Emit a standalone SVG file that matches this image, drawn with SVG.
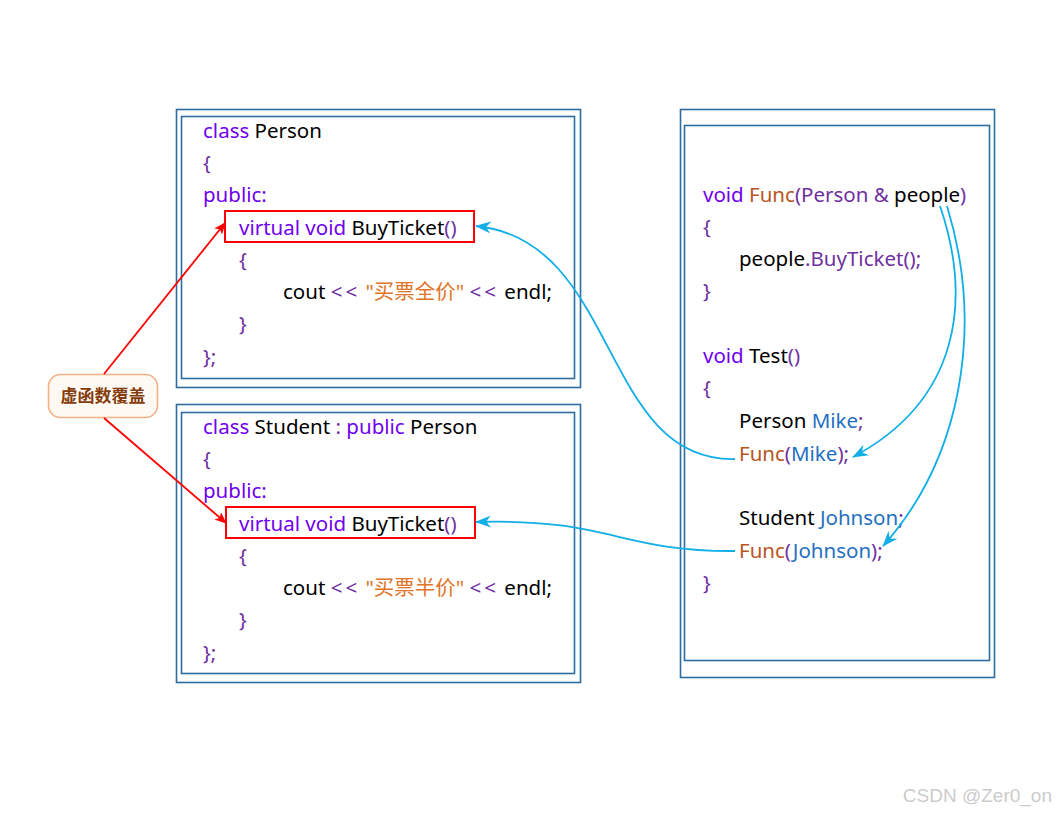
<svg xmlns="http://www.w3.org/2000/svg" width="1056" height="813" viewBox="0 0 1056 813">
<style>
text{font-family:"Noto Sans","Noto Sans CJK SC",sans-serif;font-size:20.5px;fill:#000}
.kw{fill:#6F00F0}
.pu{fill:#7030A0}
.fn{fill:#B8561E}
.vr{fill:#1F70C1}
.st{fill:#E07428}
.ob{fill:none;stroke:#2E6C9E;stroke-width:1.6}
.rb{fill:none;stroke:#FF0000;stroke-width:2}
.rl{fill:none;stroke:#FF0000;stroke-width:1.8}
.bl{fill:none;stroke:#11AEE8;stroke-width:1.8}
</style>
<defs>
<marker id="ar" viewBox="0 0 12 10" refX="11" refY="5" markerWidth="12" markerHeight="10" markerUnits="userSpaceOnUse" orient="auto">
<path d="M0,0 L12,5 L0,10 L3,5 z" fill="#FF0000"/>
</marker>
<marker id="ab" viewBox="0 0 16 12" refX="15" refY="6" markerWidth="16" markerHeight="12" markerUnits="userSpaceOnUse" orient="auto">
<path d="M0,0 L16,6 L0,12 L5,6 z" fill="#11AEE8"/>
</marker>
</defs>
<rect width="1056" height="813" fill="#fff"/>

<g id="person">
<rect class="ob" x="176.5" y="109.5" width="404" height="278"/>
<rect class="ob" x="181.5" y="116.5" width="393" height="262"/>
<text x="203" y="138"><tspan class="kw">class</tspan> Person</text>
<text x="203" y="170" class="pu">{</text>
<text x="203" y="202" class="kw">public:</text>
<rect class="rb" x="225" y="211" width="249" height="31"/>
<text x="239" y="235"><tspan class="kw">virtual void</tspan> BuyTicket<tspan class="pu">()</tspan></text>
<text x="239" y="267" class="pu">{</text>
<text x="283" y="299">cout <tspan class="pu" letter-spacing="3">&lt;&lt;</tspan> <tspan class="st">"买票全价"</tspan> <tspan class="pu" letter-spacing="3">&lt;&lt;</tspan> endl;</text>
<text x="239" y="331" class="pu">}</text>
<text x="203" y="364" class="pu">};</text>
</g>

<g id="student">
<rect class="ob" x="176.5" y="404.5" width="404" height="278"/>
<rect class="ob" x="181.5" y="412.5" width="393" height="261"/>
<text x="203" y="434"><tspan class="kw">class</tspan> Student <tspan class="pu">:</tspan> <tspan class="kw">public</tspan> Person</text>
<text x="203" y="466" class="pu">{</text>
<text x="203" y="498" class="kw">public:</text>
<rect class="rb" x="226" y="507" width="249" height="31"/>
<text x="239" y="531"><tspan class="kw">virtual void</tspan> BuyTicket<tspan class="pu">()</tspan></text>
<text x="239" y="563" class="pu">{</text>
<text x="283" y="595">cout <tspan class="pu" letter-spacing="3">&lt;&lt;</tspan> <tspan class="st">"买票半价"</tspan> <tspan class="pu" letter-spacing="3">&lt;&lt;</tspan> endl;</text>
<text x="239" y="627" class="pu">}</text>
<text x="203" y="660" class="pu">};</text>
</g>

<g id="funcs">
<rect class="ob" x="680.5" y="109.5" width="314" height="568"/>
<rect class="ob" x="684.5" y="125.5" width="305" height="535"/>
<text x="703" y="202"><tspan class="kw">void</tspan> <tspan class="fn">Func</tspan><tspan class="pu">(Person &amp;</tspan> people<tspan class="pu">)</tspan></text>
<text x="703" y="234" class="pu">{</text>
<text x="739" y="266">people<tspan class="pu">.BuyTicket();</tspan></text>
<text x="703" y="298" class="pu">}</text>
<text x="703" y="363"><tspan class="kw">void</tspan> Test<tspan class="pu">()</tspan></text>
<text x="703" y="395" class="pu">{</text>
<text x="739" y="428">Person <tspan class="vr">Mike</tspan><tspan class="pu">;</tspan></text>
<text x="739" y="461"><tspan class="fn">Func</tspan><tspan class="pu">(</tspan><tspan class="vr">Mike</tspan><tspan class="pu">);</tspan></text>
<text x="739" y="525">Student <tspan class="vr">Johnson</tspan><tspan class="pu">;</tspan></text>
<text x="739" y="558"><tspan class="fn">Func</tspan><tspan class="pu">(</tspan><tspan class="vr">Johnson</tspan><tspan class="pu">);</tspan></text>
<text x="703" y="590" class="pu">}</text>
</g>

<g id="label">
<rect x="48.5" y="374.5" width="109" height="43" rx="12" fill="#FFF9F4" stroke="#F4B183" stroke-width="1.6"/>
<text x="103" y="402" text-anchor="middle" style="font-family:'Noto Sans CJK SC',sans-serif;font-size:17px;font-weight:bold;fill:#843C0C">虚函数覆盖</text>
</g>

<g id="connectors">
<path class="rl" d="M104,374 L225,223" marker-end="url(#ar)"/>
<path class="rl" d="M104,418 L226,523" marker-end="url(#ar)"/>
<path class="bl" d="M735,459 C600,462 620,240 476,226" marker-end="url(#ab)"/>
<path class="bl" d="M735,551 C620,552 610,518 476,522" marker-end="url(#ab)"/>
<path class="bl" d="M940,206 C972,300 960,400 853,457" marker-end="url(#ab)"/>
<path class="bl" d="M947,206 C985,330 960,460 883,546" marker-end="url(#ab)"/>
</g>

<text x="1052" y="802" text-anchor="end" style="font-family:'Liberation Sans',sans-serif;font-size:19px;fill:#CCCCCC">CSDN @Zer0_on</text>
</svg>
